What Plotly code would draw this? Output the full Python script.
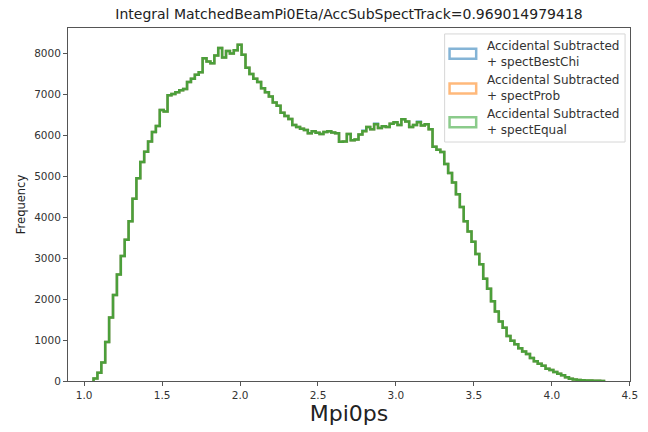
import plotly.graph_objects as go

# Histogram binning for Mpi0ps
BIN_START = 1.06
BIN_WIDTH = 0.025

# Counts per bin (131 bins)
counts_best_chi = [
    60, 200, 450, 950, 1550, 2100, 2600, 3050, 3450, 3900,
    4450, 4950, 5350, 5600, 5850, 6080, 6230, 6620, 6580, 6980,
    7010, 7050, 7100, 7130, 7300, 7380, 7480, 7540, 7880, 7800,
    7760, 7950, 8130, 7900, 8060, 8000, 8080, 8210, 7970, 7650,
    7500, 7380, 7300, 7150, 7050, 6950, 6800, 6720, 6550, 6470,
    6400, 6250, 6200, 6160, 6130, 6050, 6100, 6060, 6030, 6080,
    6100, 6070, 6050, 5840, 5850, 6030, 5880, 5900, 6020, 6120,
    6200, 6150, 6290, 6180, 6220, 6200, 6280, 6320, 6250, 6390,
    6340, 6200, 6250, 6340, 6240, 6270, 6150, 5720, 5650, 5590,
    5300, 5080, 4850, 4560, 4250, 3900, 3650, 3400, 3100, 2850,
    2500, 2250, 1950, 1700, 1450, 1300, 1100, 980, 900, 800,
    720, 660, 560, 480, 420, 370, 300, 270, 220, 180,
    140, 90, 55, 35, 25, 18, 12, 10, 7, 5,
    3,
]
counts_prob = [
    60, 200, 450, 950, 1550, 2100, 2600, 3050, 3450, 3900,
    4450, 4950, 5350, 5600, 5850, 6080, 6230, 6620, 6580, 6980,
    7010, 7050, 7100, 7130, 7300, 7380, 7480, 7540, 7880, 7800,
    7760, 7950, 8130, 7900, 8060, 8000, 8080, 8210, 7970, 7650,
    7500, 7380, 7300, 7150, 7050, 6950, 6800, 6720, 6550, 6470,
    6400, 6250, 6200, 6160, 6130, 6050, 6100, 6060, 6030, 6080,
    6100, 6070, 6050, 5840, 5850, 6030, 5880, 5900, 6020, 6100,
    6200, 6150, 6270, 6180, 6220, 6200, 6280, 6320, 6250, 6390,
    6340, 6200, 6250, 6320, 6240, 6270, 6150, 5720, 5650, 5590,
    5300, 5080, 4850, 4560, 4250, 3900, 3650, 3400, 3100, 2850,
    2500, 2250, 1950, 1700, 1450, 1300, 1100, 980, 900, 800,
    720, 660, 560, 480, 420, 370, 300, 270, 220, 180,
    140, 90, 55, 35, 25, 18, 12, 10, 7, 5,
    3,
]
counts_equal = [
    60, 200, 450, 950, 1550, 2100, 2600, 3050, 3450, 3900,
    4450, 4950, 5350, 5600, 5850, 6080, 6230, 6620, 6580, 6980,
    7010, 7050, 7100, 7130, 7300, 7380, 7480, 7540, 7880, 7800,
    7760, 7950, 8130, 7900, 8060, 8000, 8080, 8210, 7970, 7650,
    7500, 7380, 7300, 7150, 7050, 6950, 6800, 6720, 6550, 6470,
    6400, 6250, 6200, 6160, 6130, 6050, 6100, 6060, 6030, 6080,
    6100, 6070, 6050, 5840, 5850, 6030, 5880, 5900, 6020, 6100,
    6200, 6150, 6270, 6180, 6220, 6200, 6280, 6320, 6250, 6390,
    6340, 6200, 6250, 6320, 6240, 6270, 6150, 5720, 5650, 5590,
    5300, 5080, 4850, 4560, 4250, 3900, 3650, 3400, 3100, 2850,
    2500, 2250, 1950, 1700, 1450, 1300, 1100, 980, 900, 800,
    720, 660, 560, 480, 420, 370, 300, 270, 220, 180,
    140, 90, 55, 35, 25, 18, 12, 10, 7, 5,
    3,
]

series_names = [
    "Accidental Subtracted<br>+ spectBestChi",
    "Accidental Subtracted<br>+ spectProb",
    "Accidental Subtracted<br>+ spectEqual",
]
series_counts = [counts_best_chi, counts_prob, counts_equal]
series_colors = ["31,119,180", "255,127,14", "44,160,44"]
series_line_alpha = [0.5, 0.5, 0.8]

x_tick_vals = [1.0, 1.5, 2.0, 2.5, 3.0, 3.5, 4.0, 4.5]
y_tick_vals = [0, 1000, 2000, 3000, 4000, 5000, 6000, 7000, 8000]

TITLE = "Integral MatchedBeamPi0Eta/AccSubSpectTrack=0.969014979418"

W, H = 648, 432
AX_L, AX_R, AX_T, AX_B = 68, 638, 28, 384


def px(x):
    return (x - AX_L) / (AX_R - AX_L)


def py(y):
    return (AX_B - y) / (AX_B - AX_T)


def step_outline(counts):
    n = len(counts)
    edges = [BIN_START + i * BIN_WIDTH for i in range(n + 1)]
    xs = [edges[0]] + edges
    ys = [0] + list(counts) + [0]
    return xs, ys


fig = go.Figure()
for name, counts, rgb, alpha in zip(series_names, series_counts, series_colors,
                                    series_line_alpha):
    xs, ys = step_outline(counts)
    fig.add_trace(go.Scatter(
        x=xs, y=ys, mode="lines", name=name,
        line=dict(color=f"rgba({rgb},{alpha})", width=2.5, shape="hv"),
        showlegend=False, hoverinfo="skip",
    ))

n_bins = len(counts_equal)
x_lo = BIN_START
x_hi = BIN_START + n_bins * BIN_WIDTH
x_pad = 0.05 * (x_hi - x_lo)
y_max = 1.05 * max(max(c) for c in series_counts)

axis_common = dict(
    showgrid=False, zeroline=False, showline=True, mirror=True,
    linecolor="#555555", linewidth=1, ticks="outside", ticklen=4,
    tickcolor="#555555", tickfont=dict(family="DejaVu Sans", size=10.5, color="#333333"),
)

fig.update_layout(
    width=W, height=H,
    margin=dict(l=AX_L, r=W - AX_R, t=AX_T, b=H - AX_B),
    paper_bgcolor="white", plot_bgcolor="white",
    showlegend=False,
    title=dict(text=TITLE, x=px((AX_L + AX_R) / 2), xref="paper", xanchor="center",
               y=1 - 14 / H, yanchor="middle", yref="container",
               font=dict(family="DejaVu Sans", size=14, color="#222222")),
    xaxis=dict(range=[x_lo - x_pad, x_hi + x_pad + 0.003], tickvals=x_tick_vals,
               tickformat=".1f",
               title=dict(text="Mpi0ps", standoff=6,
                          font=dict(family="DejaVu Sans", size=22, color="#222222")),
               **axis_common),
    yaxis=dict(range=[0, y_max], tickvals=y_tick_vals,
               title=dict(text="Frequency", standoff=6,
                          font=dict(family="DejaVu Sans", size=11.5, color="#222222")),
               **axis_common),
)

# Legend frame with outlined patches
shapes = [dict(type="rect", xref="paper", yref="paper",
               x0=px(450), x1=px(633), y0=py(143), y1=py(34),
               line=dict(color="#d6d6d6", width=1), fillcolor="rgba(255,255,255,0.85)",
               layer="above")]
annotations = []
patch_tops = [49, 84, 118]
for name, rgb, top in zip(series_names, series_colors, patch_tops):
    shapes.append(dict(type="rect", xref="paper", yref="paper",
                       x0=px(455), x1=px(482), y0=py(top + 10), y1=py(top),
                       line=dict(color=f"rgba({rgb},0.55)", width=2.5),
                       fillcolor="rgba(0,0,0,0)", layer="above"))
    annotations.append(dict(text=name, xref="paper", yref="paper",
                            x=px(491), y=py(top + 5), xanchor="left", yanchor="middle",
                            align="left", showarrow=False,
                            font=dict(family="DejaVu Sans", size=12, color="#333333")))

fig.update_layout(shapes=shapes, annotations=annotations)

fig.write_html("out.html")
